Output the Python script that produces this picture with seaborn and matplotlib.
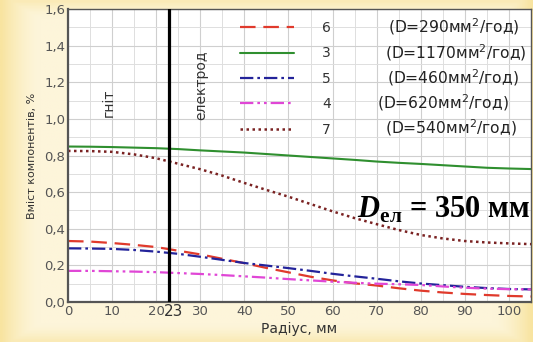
import numpy as np
import pandas as pd
import seaborn as sns
import matplotlib
matplotlib.use("Agg")
import matplotlib.pyplot as plt
from matplotlib.ticker import MultipleLocator, FuncFormatter

# ---------------- data ----------------
radius = [0, 5, 10, 15, 20, 25, 30, 35, 40, 45, 50, 55, 60, 65, 70, 75, 80, 85, 90, 95, 100, 105]
curve6 = [.333, .330, .322, .312, .300, .280, .260, .236, .212, .186, .162, .138, .118, .102, .090, .075, .062, .052, .044, .038, .033, .030]
curve3 = [.849, .848, .846, .843, .840, .835, .828, .822, .816, .808, .800, .792, .784, .776, .767, .760, .754, .747, .740, .733, .729, .726]
curve5 = [.293, .292, .290, .284, .275, .263, .247, .230, .213, .199, .185, .170, .154, .140, .127, .113, .101, .092, .083, .076, .071, .069]
curve4 = [.170, .170, .168, .166, .163, .158, .153, .147, .140, .133, .125, .118, .111, .105, .100, .097, .093, .085, .078, .073, .070, .069]
curve7 = [.825, .824, .820, .806, .785, .755, .725, .690, .650, .612, .575, .535, .495, .458, .425, .393, .366, .347, .333, .325, .320, .316]

series_names = ["6", "3", "5", "4", "7"]
series_notes = ["(D=290мм$^2$/год)", "(D=1170мм$^2$/год)", "(D=460мм$^2$/год)",
                "(D=620мм$^2$/год)", "(D=540мм$^2$/год)"]
electrode_x = 23
x_ticks = [0, 10, 20, 30, 40, 50, 60, 70, 80, 90, 100]
y_ticks = [0.0, 0.2, 0.4, 0.6, 0.8, 1.0, 1.2, 1.4, 1.6]

series_values = [curve6, curve3, curve5, curve4, curve7]
colors = ["#e03a2c", "#2f8f2f", "#23239a", "#e046d6", "#7a2222"]
styles = [(0, (7, 3.5)), "-", (0, (6, 1.8, 1.2, 1.8)), (0, (6, 1.8, 1.2, 1.8, 1.2, 1.8)), (0, (1, 1.4))]
widths = [1.6, 1.5, 1.6, 1.6, 1.8]

# ---------------- figure ----------------
sns.set_style("white")
plt.rcParams["font.family"] = ["DejaVu Sans"]
plt.rcParams["mathtext.fontset"] = "custom"
plt.rcParams["mathtext.rm"] = "DejaVu Sans"
plt.rcParams["mathtext.bf"] = "Liberation Serif:bold"
plt.rcParams["mathtext.bfit"] = "Liberation Serif:italic:bold"

W, H = 533, 342
fig = plt.figure(figsize=(W / 100, H / 100), dpi=100)
fig.patch.set_facecolor("#fdf4d6")

# background vignette
bg = fig.add_axes([0, 0, 1, 1], zorder=-10)
gx = np.linspace(0, 1, 200)
gy = np.linspace(0, 1, 120)
GX, GY = np.meshgrid(gx, gy)
edge = np.clip(1 - np.minimum(np.minimum(GX, 1 - GX) * 14, 1), 0, 1) ** 1.5
edge = np.maximum(edge, np.clip(1 - np.minimum(np.minimum(GY, 1 - GY) * 20, 1), 0, 1) ** 1.5 * 0.6)
base = np.array([253, 245, 218]) / 255
deep = np.array([248, 228, 160]) / 255
img = base[None, None, :] * (1 - edge[..., None]) + deep[None, None, :] * edge[..., None]
bg.imshow(img, aspect="auto", extent=[0, 1, 0, 1])
bg.axis("off")

ax = fig.add_axes([68 / W, 1 - 302 / H, (531 - 68) / W, (302 - 9) / H])
ax.set_facecolor("white")

handles = []
for name, vals, c, ls, lw in zip(series_names, series_values, colors, styles, widths):
    sns.lineplot(x=radius, y=vals, ax=ax, color=c, linestyle=ls, linewidth=lw,
                 label=name, legend=False)
    handles.append(ax.lines[-1])

ax.axvline(electrode_x, color="black", linewidth=2.3, zorder=5)

ax.set_xlim(0, 105)
ax.set_ylim(0, 1.6)
ax.set_xticks(x_ticks)
ax.set_yticks(y_ticks)
ax.xaxis.set_minor_locator(MultipleLocator(5))
ax.yaxis.set_minor_locator(MultipleLocator(0.1))
ax.grid(which="major", color="#cfcfcf", linewidth=0.8)
ax.grid(which="minor", color="#dedede", linewidth=0.7)
ax.set_axisbelow(True)
ax.yaxis.set_major_formatter(FuncFormatter(lambda v, p: f"{v:.1f}".replace(".", ",")))
ax.tick_params(axis="both", which="both", length=0, labelsize=9.5, labelcolor="#555555", pad=2)
for s in ax.spines.values():
    s.set_color("#555555")
    s.set_linewidth(1.0)
ax.spines["left"].set_linewidth(1.6)
ax.spines["bottom"].set_linewidth(1.6)

ax.set_xlabel("Радіус, мм", fontsize=10, color="#333333", labelpad=3)
ax.set_ylabel("Вміст компонентів, %", fontsize=8, color="#333333", labelpad=5)

# extra tick for electrode position
ax.text(electrode_x + 1.0, -0.008, "23", transform=ax.get_xaxis_transform(), ha="center", va="top",
        fontsize=11, color="#333333")

# region labels
ax.text(9.3, 1.09, "гніт", rotation=90, ha="center", va="center", fontsize=10, color="#333333")
ax.text(30.2, 1.185, "електрод", rotation=90, ha="center", va="center", fontsize=10, color="#333333")

# legend
leg = ax.legend(handles=handles, labels=series_names, loc="upper left",
                bbox_to_anchor=((240 - 68) / 463, (302 - 21) / 293), frameon=False,
                fontsize=10, handlelength=3.9, handletextpad=2.0, labelspacing=0.82,
                borderpad=0, borderaxespad=0)
for t in leg.get_texts():
    t.set_color("#333333")

rows_y = [27, 53, 78, 103, 128]
notes_x = [388, 385, 387, 377, 385]
for note, px, py in zip(series_notes, notes_x, rows_y):
    ax.text((px - 68) / 463, (302 - py) / 293, note, transform=ax.transAxes,
            ha="left", va="center", fontsize=11.2, color="#222222")

fig.text(357 / W, 1 - 218 / H, r"$\mathbfit{D}_{\mathbf{ел}}$ = 350 мм", ha="left", va="baseline",
         fontsize=22, fontfamily="Liberation Serif", fontweight="bold", color="black")

fig.savefig("out.png", dpi=100, facecolor=fig.get_facecolor())
